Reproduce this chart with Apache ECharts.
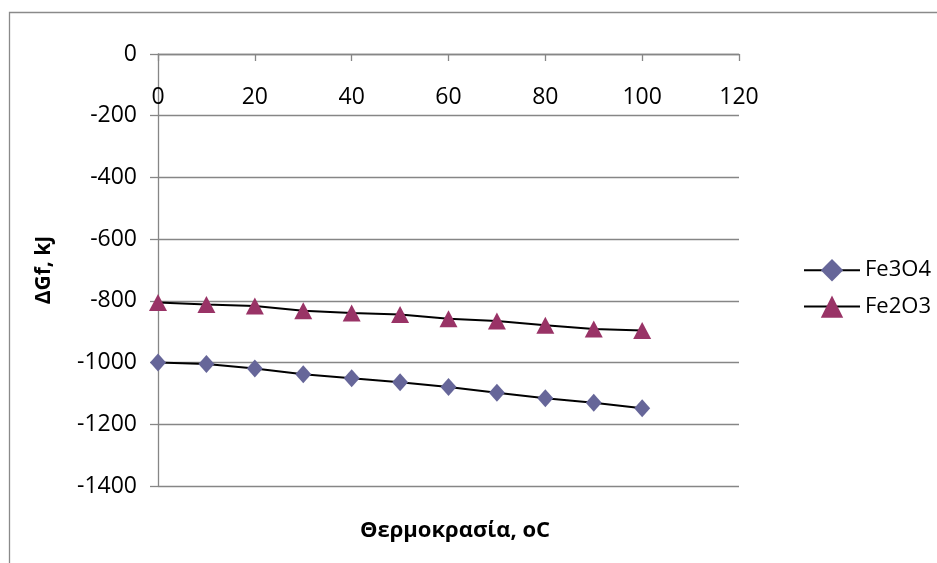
<!DOCTYPE html>
<html>
<head>
<meta charset="utf-8">
<script src="https://cdn.jsdelivr.net/npm/echarts@6/dist/echarts.min.js"></script>
<style>
html,body{margin:0;padding:0;background:#fff;}
#c{width:937px;height:563px;}
</style>
</head>
<body>
<div id="c"></div>
<script>
const temperatures = [0, 10, 20, 30, 40, 50, 60, 70, 80, 90, 100];
const fe3o4 = [-1000, -1005, -1019, -1038, -1051, -1064, -1079, -1098, -1116, -1130, -1148];
const fe2o3 = [-805, -812, -817, -832, -839, -844, -858, -865, -879, -891, -896];
const seriesNames = ['Fe3O4', 'Fe2O3'];
const xTitle = 'Θερμοκρασία, oC';
const yTitle = 'ΔGf, kJ';

const FONT = '"Open Sans", "Noto Sans", sans-serif';
const chart = echarts.init(document.getElementById('c'), null, {renderer: 'canvas'});

function pairs(xs, ys) { return xs.map((x, i) => [x, ys[i]]); }

chart.setOption({
  animation: false,
  backgroundColor: '#ffffff',
  textStyle: {fontFamily: FONT},
  grid: {left: 158, right: 198, top: 54, bottom: 77, containLabel: false},
  graphic: [
    {type: 'rect', shape: {x: 9.5, y: 12.5, width: 1200, height: 1200},
     style: {fill: 'none', stroke: '#8a8a8a', lineWidth: 1.3}, silent: true},
    {type: 'text', left: 360, top: 520,
     style: {text: xTitle, fontFamily: FONT, fontSize: 22, fontWeight: 'bold', fill: '#000'}}
  ],
  legend: {
    orient: 'vertical', left: 803, top: 259, padding: 0,
    itemWidth: 56, itemHeight: 28, itemGap: 14,
    textStyle: {fontFamily: FONT, fontSize: 22, color: '#000', padding: [0, 0, 0, 0]},
    data: seriesNames
  },
  xAxis: {
    type: 'value', min: 0, max: 120, interval: 20, position: 'top',
    axisLine: {onZero: false, lineStyle: {color: '#868686', width: 1.3}},
    axisTick: {show: true, inside: true, length: 7, lineStyle: {color: '#868686', width: 1.3}},
    axisLabel: {inside: true, margin: 32, fontFamily: FONT, fontSize: 23, color: '#000'},
    splitLine: {show: false}
  },
  yAxis: {
    type: 'value', min: -1400, max: 0, interval: 200,
    name: yTitle, nameLocation: 'middle', nameRotate: 90, nameGap: 103,
    nameTextStyle: {fontFamily: FONT, fontSize: 21, fontWeight: 'bold', color: '#000'},
    axisLine: {show: true, lineStyle: {color: '#868686', width: 1.3}},
    axisTick: {show: true, length: 8, lineStyle: {color: '#868686', width: 1.3}},
    axisLabel: {margin: 21, fontFamily: FONT, fontSize: 23, color: '#000',
      padding: [8, 0, 0, 0],
      formatter: function (v) { return String(v); }},
    splitLine: {show: true, lineStyle: {color: '#868686', width: 1.3}}
  },
  series: [
    {name: seriesNames[0], type: 'line', data: pairs(temperatures, fe3o4),
     symbol: 'diamond', symbolSize: [16, 18], showAllSymbol: true,
     lineStyle: {color: '#000', width: 2},
     itemStyle: {color: '#666699'}, z: 3},
    {name: seriesNames[1], type: 'line', data: pairs(temperatures, fe2o3),
     symbol: 'triangle', symbolSize: [18, 17], showAllSymbol: true,
     lineStyle: {color: '#000', width: 2},
     itemStyle: {color: '#993366'}, z: 3}
  ]
});
</script>
</body>
</html>
